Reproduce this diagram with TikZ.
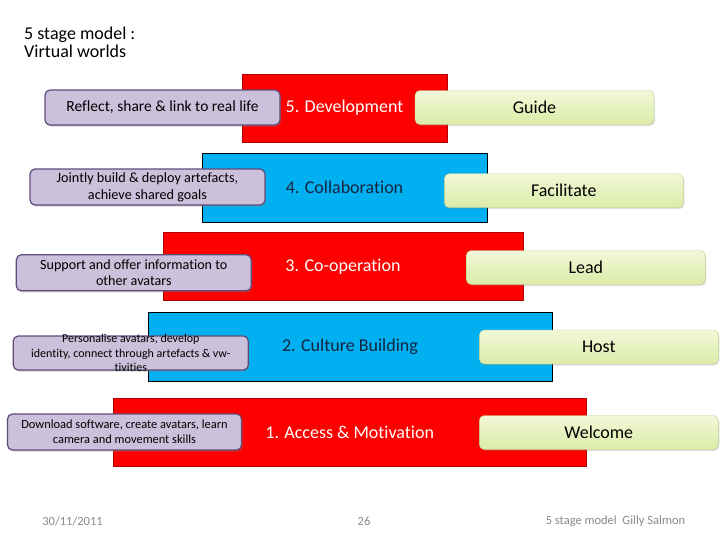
\documentclass[tikz,border=0pt]{standalone}
\usepackage{xcolor}
\usepackage{fontspec}
\setmainfont{Carlito}[Ligatures=NoCommon]
\usetikzlibrary{shadows}
\definecolor{stagered}{HTML}{FF0000}
\definecolor{stageblue}{HTML}{00B0F0}
\definecolor{redline}{HTML}{B00000}
\definecolor{navy}{HTML}{14253F}
\definecolor{lilac}{HTML}{CCC1DA}
\definecolor{lilacline}{HTML}{5F4B7B}
\definecolor{limetop}{HTML}{F1F8D8}
\definecolor{limebot}{HTML}{DCEBA8}
\definecolor{limeline}{HTML}{BFD38E}
\definecolor{footgray}{HTML}{8A8A8A}

\begin{document}
\begin{tikzpicture}[x=1pt, y=-1pt,
      redbar/.style={draw=redline, fill=stagered, text=white, inner sep=0pt,
                     minimum height=68pt, font=\fontsize{18}{21}\selectfont},
      bluebar/.style={draw=black, fill=stageblue, text=navy, inner sep=0pt,
                      minimum height=69pt, font=\fontsize{18}{21}\selectfont},
      role/.style={draw=limeline, top color=limetop, bottom color=limebot,
                   rounded corners=5pt, minimum width=239pt, minimum height=34pt,
                   inner sep=0pt, font=\fontsize{18}{21}\selectfont,
                   drop shadow={shadow xshift=1pt, shadow yshift=-1.5pt, opacity=0.25}},
      task/.style={draw=lilacline, line width=1.2pt, fill=lilac, rounded corners=5pt,
                   minimum width=235pt, minimum height=35pt, inner sep=0pt, align=center,
                   drop shadow={shadow xshift=1pt, shadow yshift=-1.5pt, opacity=0.35}},
      foot/.style={text=footgray, font=\fontsize{12.5}{14}\selectfont}]
    \useasboundingbox (0,0) rectangle (728,546);
    \fill[white] (0,0) rectangle (728,546);

    % title
    \node[anchor=north west, align=left, inner sep=0pt, font=\fontsize{18}{18}\selectfont]
      (title) at (24,26.5) {5 stage model :\\Virtual worlds};

    % stages
    \node[redbar, minimum width=205pt]  (dev)     at (344.5,108)   {5. Development};
    \node[bluebar, minimum width=285pt] (collab)  at (344.5,187.5) {4. Collaboration};
    \node[redbar, minimum width=360pt]  (coop)    at (343,266.5)   {3. Co-operation};
    \node[bluebar, minimum width=404pt] (culture) at (350,347)     {2. Culture Building};
    \node[redbar, minimum width=473pt]  (access)  at (349.7,432.5) {1. Access \& Motivation};

    % what participants do
    \node[task, font=\fontsize{15.5}{17}\selectfont] (reflect) at (162.5,107.5)
      {Reflect, share \& link to real life};
    \node[task, minimum height=36pt, font=\fontsize{14.2}{16.7}\selectfont] (jointly) at (147.5,187)
      {Jointly build \& deploy artefacts,\\achieve shared goals};
    \node[task, minimum height=36pt, font=\fontsize{14.1}{16.7}\selectfont] (support) at (133.8,272.8)
      {Support and offer information to\\other avatars};
    \node[task, minimum height=34pt] (personal) at (130.8,353) {};
    \node[align=center, inner sep=0pt, font=\fontsize{12}{14.5}\selectfont] (personaltext) at (personal)
      {Personalise avatars, develop\\identity, connect through artefacts \& vw-\\tivities};
    \node[task, minimum height=36pt, minimum width=234pt, font=\fontsize{12.4}{15}\selectfont] (download) at (124.5,432)
      {Download software, create avatars, learn\\camera and movement skills};

    % moderator roles
    \node[role] (guide)   at (534.5,107.5) {Guide};
    \node[role] (facil)   at (563.8,190.7) {Facilitate};
    \node[role] (lead)    at (585.8,267.5) {Lead};
    \node[role] (host)    at (598.8,347)   {Host};
    \node[role] (welcome) at (598.8,432.5) {Welcome};

    % footer
    \node[foot] (date)   at (72.5,521.5) {30/11/2011};
    \node[foot] (page)   at (364,521.5)  {26};
    \node[foot] (source) at (615.5,521.5) {5 stage model\ \ Gilly Salmon};
  \end{tikzpicture}
\end{document}
